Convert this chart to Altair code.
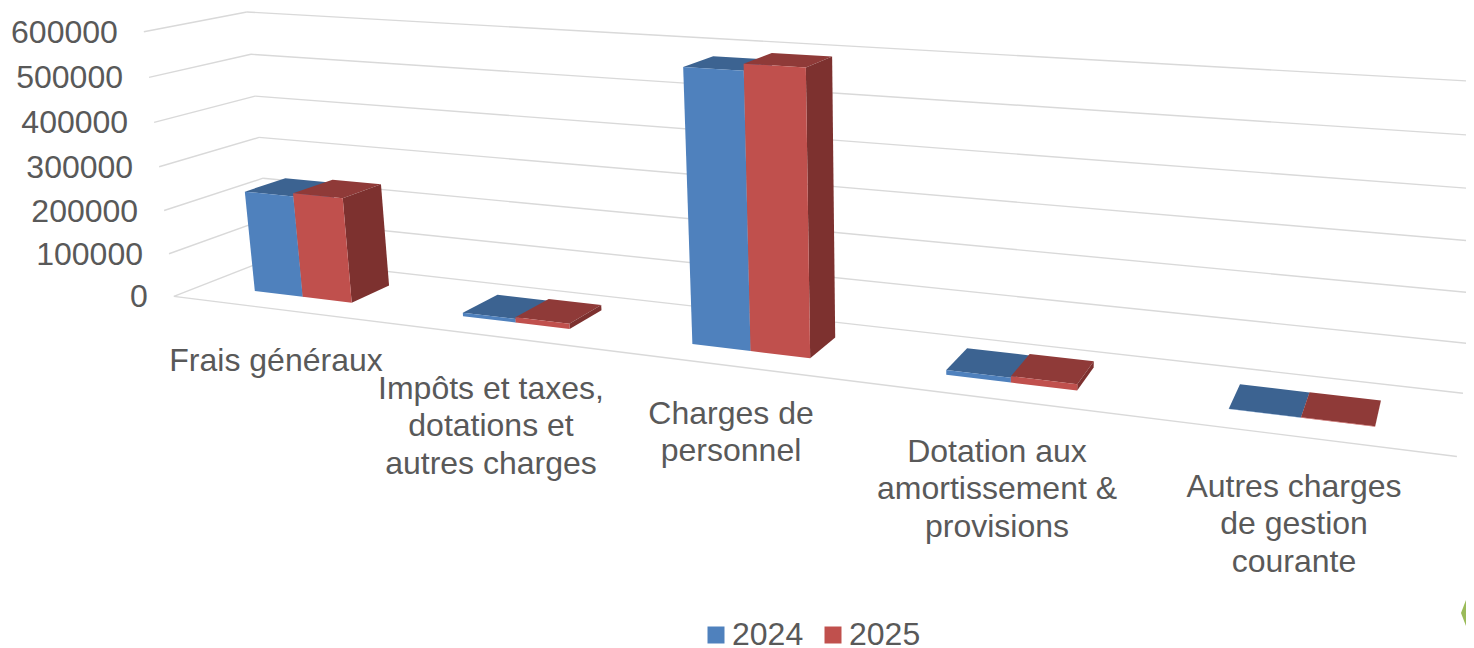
import numpy as np
import pandas as pd
import altair as alt

# ---- chart data -------------------------------------------------------
categories = ["Frais généraux", "Impôts et taxes,\ndotations et\nautres charges",
              "Charges de\npersonnel", "Dotation aux\namortissement &\nprovisions",
              "Autres charges\nde gestion\ncourante"]
series = ["2024", "2025"]
values_2024 = [233000, 8000, 579000, 10000, 500]
values_2025 = [240000, 12000, 593000, 13000, 1000]
ticks = [0, 100000, 200000, 300000, 400000, 500000, 600000]

# ---- layout / style ---------------------------------------------------
FONT = "Liberation Sans"
TEXT = "#595959"
GRID = "#D9D9D9"
FRONT = ["#4F81BD", "#C0504D"]
TOP = ["#3C6391", "#8F3A38"]
SIDE = ["#3C6391", "#7D312F"]
GAP_U = 0.0477          # half cluster width on the floor
V0, V1 = 0.29, 0.71     # bar depth on the floor
LABEL_X = [276, 491, 731, 997, 1294]
LABEL_Y = [360, 388, 413, 451, 486]
LINE_H = 37.3
W, H = 1458, 648

# ---- perspective camera, calibrated on the chart's walls --------------
calib = [
    ((0, 0, 0), (174, 296)), ((0, 0, 1), (169, 254)), ((0, 0, 2), (164, 211)), ((0, 0, 3), (159, 167)),
    ((0, 0, 4), (154, 122)), ((0, 0, 5), (149, 77)), ((0, 0, 6), (144, 32)),
    ((0, 1, 0), (271, 258)), ((0, 1, 2), (263, 178)), ((0, 1, 3), (259, 138)),
    ((0, 1, 4), (255, 96)), ((0, 1, 5), (251, 54)), ((0, 1, 6), (247, 12)),
    ((1, 1, 0), (1463, 393)), ((1, 1, 1), (1467, 344)), ((1, 1, 2), (1472, 293)),
    ((1, 1, 3), (1476.5, 242)), ((1, 1, 4), (1481, 188.4)), ((1, 1, 5), (1485.5, 136.6)), ((1, 1, 6), (1490, 82)),
    ((1, 0, 0), (1457, 456)),
]
A = []
for (u, v, h), (x, y) in calib:
    x, y = x / 1000, y / 1000
    A.append([u, v, h, 1, 0, 0, 0, 0, -x * u, -x * v, -x * h, -x])
    A.append([0, 0, 0, 0, u, v, h, 1, -y * u, -y * v, -y * h, -y])
P = np.linalg.svd(np.array(A))[2][-1].reshape(3, 4)


def project(u, v, h):
    q = P @ np.array([u, v, h, 1.0])
    return 1000 * q[0] / q[2], 1000 * q[1] / q[2]


# ---- tables -----------------------------------------------------------
grid_rows = []
def seg(name, a, b):
    for n, pt in enumerate((a, b)):
        x, y = project(*pt)
        grid_rows.append(dict(id=name, n=n, x=x, y=y))

for t in ticks:
    h = t / 100000
    seg(f"l{t}", (0, 0, h), (0, 1, h))
    seg(f"b{t}", (0, 1, h), (1, 1, h))
seg("front", (0, 0, 0), (1, 0, 0))
grid = pd.DataFrame(grid_rows)

front_rows, dark_rows = [], []
def face(rows, name, color, pts, **extra):
    for n, pt in enumerate(pts):
        x, y = project(*pt)
        rows.append(dict(id=name, n=n, x=x, y=y, color=color, **extra))

for s, vals in enumerate((values_2024, values_2025)):
    for i, val in enumerate(vals):
        h = val / 100000
        uc = (i + 0.5) / len(categories)
        bw = GAP_U
        u0 = uc - GAP_U + s * bw
        u1 = u0 + bw
        face(dark_rows, f"t{s}{i}", TOP[s], [(u0, V0, h), (u1, V0, h), (u1, V1, h), (u0, V1, h)])
        face(dark_rows, f"r{s}{i}", SIDE[s], [(u1, V0, 0), (u1, V1, 0), (u1, V1, h), (u1, V0, h)])
        face(front_rows, f"f{s}{i}", FRONT[s], [(u0, V0, 0), (u1, V0, 0), (u1, V0, h), (u0, V0, h)], year=series[s])
front = pd.DataFrame(front_rows)
dark = pd.DataFrame(dark_rows)

tick_rows = []
for t in ticks:
    x, y = project(0, 0, t / 100000)
    tick_rows.append(dict(x=x, y=y, label=str(t)))
tick_df = pd.DataFrame(tick_rows)

label_rows = []
for c, lx, ly in zip(categories, LABEL_X, LABEL_Y):
    for k, line in enumerate(c.split("\n")):
        label_rows.append(dict(x=lx, y=ly + k * LINE_H, label=line))
label_df = pd.DataFrame(label_rows)

corner = pd.DataFrame(dict(x=[1461, 1466, 1466], y=[613, 600, 626], n=[0, 1, 2]))

# ---- chart ------------------------------------------------------------
X = alt.X("x:Q", scale=alt.Scale(domain=[8, 8 + W], nice=False, zero=False), axis=None)
Y = alt.Y("y:Q", scale=alt.Scale(domain=[8 + H, 8], nice=False, zero=False), axis=None)

grid_layer = alt.Chart(grid).mark_line(color=GRID, strokeWidth=1.4).encode(
    X, Y, detail="id:N", order="n:Q")
dark_layer = alt.Chart(dark).mark_line(filled=True).encode(
    X, Y, alt.Color("color:N", scale=None), detail="id:N", order="n:Q")
front_layer = alt.Chart(front).mark_line(filled=True).encode(
    X, Y,
    alt.Color("year:N", scale=alt.Scale(domain=series, range=FRONT),
              legend=alt.Legend(title=None, orient="none", legendX=692, legendY=611,
                                direction="horizontal", symbolType="square", symbolSize=289,
                                symbolStrokeWidth=0,
                                labelFont=FONT, labelFontSize=32, labelColor=TEXT,
                                labelOffset=0, columnPadding=13, padding=0)),
    detail="id:N", order="n:Q")
tick_layer = alt.Chart(tick_df).mark_text(font=FONT, fontSize=32, color=TEXT, align="right",
                                          baseline="middle", dx=-26, dy=1).encode(X, Y, text="label:N")
label_layer = alt.Chart(label_df).mark_text(font=FONT, fontSize=32, color=TEXT, align="center",
                                            baseline="middle", dy=1).encode(X, Y, text="label:N")
corner_layer = alt.Chart(corner).mark_line(filled=True, color="#9BBB59").encode(
    X, Y, order="n:Q")

chart = alt.layer(grid_layer, dark_layer, front_layer, tick_layer, label_layer, corner_layer).properties(
    width=W, height=H, padding=0, autosize=alt.AutoSizeParams(type="none")
).configure_view(stroke=None)

chart.save("out.html", embed_options={"renderer": "svg", "actions": False})
